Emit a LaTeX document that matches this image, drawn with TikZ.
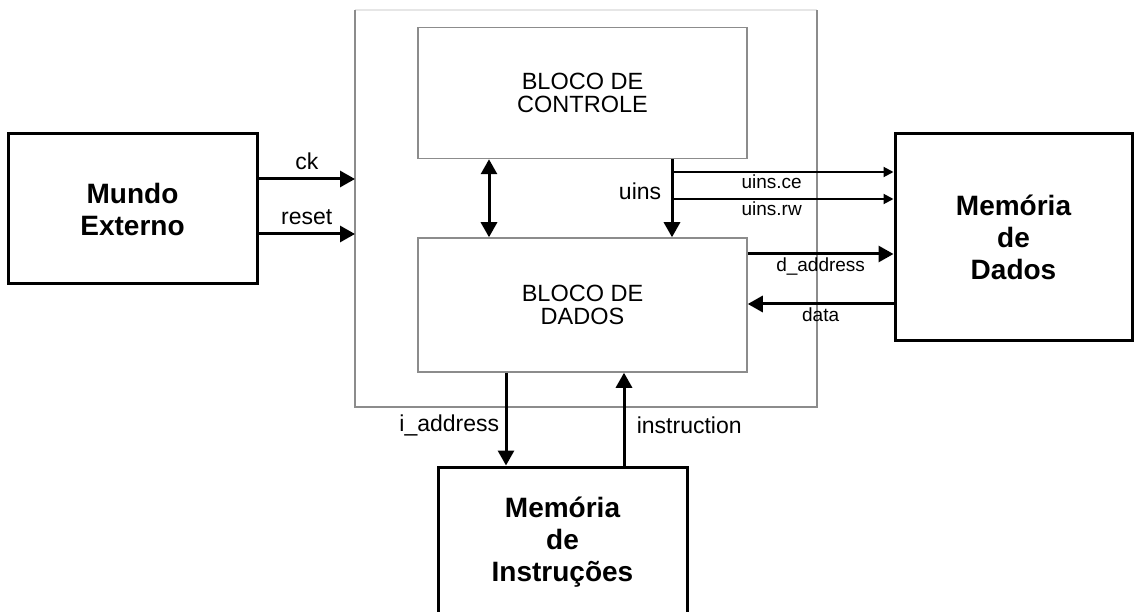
\documentclass[tikz,border=0pt]{standalone}
\usepackage{fontspec}
\setmainfont{Liberation Sans}
\usepackage{xcolor}
\usetikzlibrary{arrows.meta,positioning}
\definecolor{mgray}{HTML}{8C8C8C}
\definecolor{mfaint}{HTML}{E6E6E6}
\tikzstyle{blk}=[draw=black, line width=3, align=center, inner sep=0, font=\bfseries\fontsize{28}{32}\selectfont]
\tikzstyle{sub}=[draw=mgray, line width=1.5, align=center, inner sep=0, font=\fontsize{23.5}{23}\selectfont]
\tikzstyle{l1}=[line width=3, -{Triangle[length=15pt, width=16pt]}]
\tikzstyle{l2}=[line width=2, -{Triangle[length=10pt, width=10pt]}]
\tikzstyle{lbl}=[font=\fontsize{23}{25}\selectfont]
\tikzstyle{slbl}=[font=\fontsize{19}{21}\selectfont, inner sep=2pt]

\begin{document}
\begin{tikzpicture}[x=1pt, y=-1pt]
    \useasboundingbox (0,0) rectangle (1135,612);

    \node (cpu) [minimum width=462, minimum height=397, inner sep=0] at (586,208.5) {};
    \draw[line width=1.5, color=mfaint] (cpu.north west) -- (cpu.north east);
    \draw[line width=1.5, color=mgray] (cpu.north west) |- (cpu.south east) -- (cpu.north east);

    \node (ctrl) [sub, minimum width=329, minimum height=131] at (582.5,93) {BLOCO DE\\CONTROLE};
    \node (dados) [sub, minimum width=329, minimum height=134] at (582.5,305) {BLOCO DE\\DADOS};
    \node (mundo) [blk, minimum width=249, minimum height=150] at (132.5,209) {Mundo\\Externo};
    \node (memd) [blk, minimum width=237, minimum height=206] at (1013.5,237) {Memória\\de\\Dados};
    \node (memi) [blk, minimum width=249, minimum height=150] at (562.5,542) {Memória\\de\\Instruções};

    \coordinate (ckin) at (355,179);
    \coordinate (rstin) at (355,234);
    \draw[l1] (mundo.east |- ckin) -- (ckin) node[lbl, midway, above=4pt] {ck};
    \draw[l1] (mundo.east |- rstin) -- (rstin) node[lbl, midway, above=4pt] {reset};

    \coordinate (bi) at (489,0);
    \coordinate (ui) at (672,0);
    \draw[l1, {Triangle[length=15pt, width=16pt]}-{Triangle[length=15pt, width=16pt]}] (ctrl.south -| bi) -- (dados.north -| bi);
    \draw[l1] (ctrl.south -| ui) -- (dados.north -| ui) node[lbl, pos=0.41, left=6pt] {uins};

    \coordinate (ce) at (672,172);
    \coordinate (rw) at (672,199);
    \draw[l2] (ce) -- (memd.west |- ce) node[slbl, pos=0.45, below] {uins.ce};
    \draw[l2] (rw) -- (memd.west |- rw) node[slbl, pos=0.45, below] {uins.rw};

    \coordinate (da) at (0,254);
    \coordinate (dt) at (0,304);
    \draw[l1] (dados.east |- da) -- (memd.west |- da) node[slbl, midway, below] {d\_address};
    \draw[l1] (memd.west |- dt) -- (dados.east |- dt) node[slbl, midway, below] {data};

    \coordinate (ia) at (506,0);
    \coordinate (ins) at (624,0);
    \draw[l1] (dados.south -| ia) -- (memi.north -| ia) node[lbl, pos=0.57, left=2pt] {i\_address};
    \draw[l1] (memi.north -| ins) -- (dados.south -| ins) node[lbl, pos=0.43, right=8pt] {instruction};

\end{tikzpicture}
\end{document}
